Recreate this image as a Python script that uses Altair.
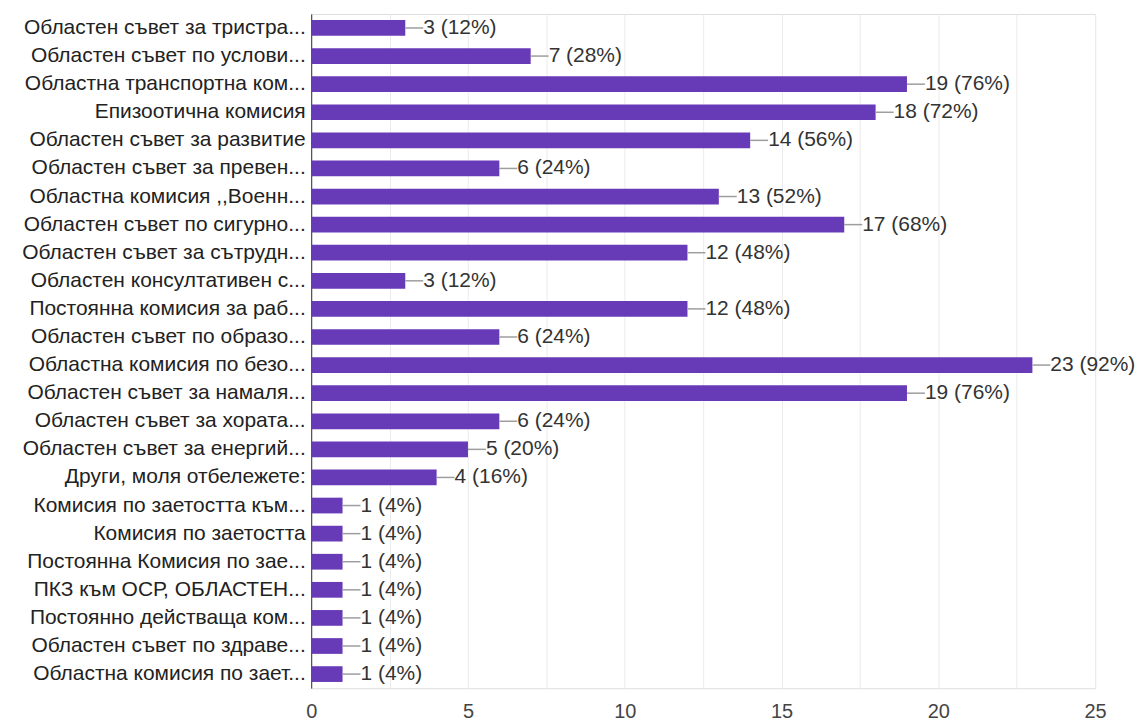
import altair as alt
import pandas as pd

categories = [
    "Областен съвет за тристра...",
    "Областен съвет по услови...",
    "Областна транспортна ком...",
    "Епизоотична комисия",
    "Областен съвет за развитие",
    "Областен съвет за превен...",
    "Областна комисия ,,Военн...",
    "Областен съвет по сигурно...",
    "Областен съвет за сътрудн...",
    "Областен консултативен с...",
    "Постоянна комисия за раб...",
    "Областен съвет по образо...",
    "Областна комисия по безо...",
    "Областен съвет за намаля...",
    "Областен съвет за хората...",
    "Областен съвет за енергий...",
    "Други, моля отбележете:",
    "Комисия по заетостта към...",
    "Комисия по заетостта",
    "Постоянна Комисия по зае...",
    "ПКЗ към ОСР, ОБЛАСТЕН...",
    "Постоянно действаща ком...",
    "Областен съвет по здраве...",
    "Областна комисия по зает...",
]
counts = [3, 7, 19, 18, 14, 6, 13, 17, 12, 3, 12, 6, 23, 19, 6, 5, 4, 1, 1, 1, 1, 1, 1, 1]
percents = [12, 28, 76, 72, 56, 24, 52, 68, 48, 12, 48, 24, 92, 76, 24, 20, 16, 4, 4, 4, 4, 4, 4, 4]
x_grid_values = [0, 2.5, 5, 7.5, 10, 12.5, 15, 17.5, 20, 22.5, 25]

df = pd.DataFrame({
    "category": categories,
    "count": counts,
    "label": [f"{c} ({p}%)" for c, p in zip(counts, percents)],
})

FONT = "Liberation Sans"

x_enc = alt.X(
    "count:Q",
    scale=alt.Scale(domain=[0, 25], nice=False),
    axis=alt.Axis(
        values=x_grid_values,
        labelExpr="datum.value % 5 == 0 ? datum.label : ''",
        title=None,
        grid=True,
        gridColor="#ebebeb",
        ticks=False,
        domain=True,
        domainColor="#e6e6e6",
        labelFont=FONT,
        labelFontSize=20,
        labelColor="#444444",
        labelPadding=13,
        labelFlush=False,
        labelOverlap=False,
    ),
)
y_enc = alt.Y(
    "category:N",
    sort=None,
    scale=alt.Scale(paddingInner=0.44, paddingOuter=0.22),
    axis=alt.Axis(
        title=None,
        ticks=False,
        domain=True,
        domainColor="#333333",
        labelFont=FONT,
        labelFontSize=21,
        labelColor="#222222",
        labelPadding=6,
        labelLimit=400,
    ),
)

bars = alt.Chart(df).mark_bar(color="#673ab7").encode(x=x_enc, y=y_enc)

connectors = alt.Chart(df).mark_rule(color="#9e9e9e", strokeWidth=1.5, x2Offset=18).encode(
    x="count:Q", x2="count:Q", y=alt.Y("category:N", sort=None)
)

texts = alt.Chart(df).mark_text(
    align="left", baseline="middle", dx=18, font=FONT, fontSize=21, color="#333333"
).encode(x="count:Q", y=alt.Y("category:N", sort=None), text="label:N")

chart = (
    alt.layer(bars, connectors, texts)
    .properties(
        width=786,
        height=676,
        autosize=alt.AutoSizeParams(type="none"),
        padding={"left": 304, "top": 5, "right": 40, "bottom": 33},
    )
    .configure_view(stroke=None)
    .configure(background="white")
)

chart.save("out.html", embed_options={"renderer": "svg", "actions": False})
